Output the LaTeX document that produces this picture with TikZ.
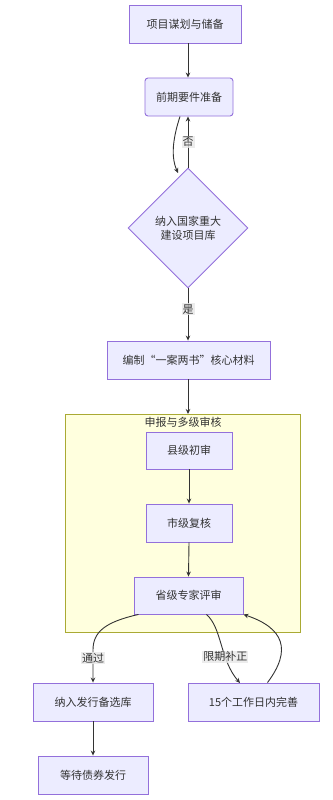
\documentclass[tikz,border=0pt]{standalone}
\usepackage{fontspec}
\setmainfont{Noto Sans CJK SC}
\usetikzlibrary{shapes.geometric,arrows.meta}
\definecolor{nfill}{HTML}{ECECFF}
\definecolor{nline}{HTML}{9370DB}
\definecolor{edge}{HTML}{333333}
\definecolor{cfill}{HTML}{FFFFDE}
\definecolor{cline}{HTML}{AAAA33}
\definecolor{lblbg}{HTML}{E8E8E8}
\tikzset{
  box/.style={draw=nline, fill=nfill, line width=0.9pt, inner sep=0pt, text=edge, font=\fontsize{11}{14}\selectfont},
  dia/.style={box, diamond, align=center},
  conn/.style={draw=edge, line width=0.9pt, -{Stealth[length=5pt,width=4.5pt]}},
  lbl/.style={fill=lblbg, fill opacity=0.8, text opacity=1, text=edge, inner sep=1pt, font=\fontsize{11}{13}\selectfont},
}
\begin{document}
\begin{tikzpicture}[x=1pt,y=-1pt]
\useasboundingbox (0,0) rectangle (332,800);
\fill[white] (0,0) rectangle (332,800);
% cluster
\draw[draw=cline, fill=cfill, line width=0.9pt] (65,414) rectangle (300,632);
\coordinate (ctop) at (188,414);
\node[text=edge, font=\fontsize{11}{13}\selectfont, inner sep=0pt] (ct) at (183,422) {申报与多级审核};

\node[box, minimum width=112pt, minimum height=38pt] (n1) at (185,24) {项目谋划与储备};
\node[box, rounded corners=3pt, minimum width=88pt, minimum height=38pt] (n2) at (189,97) {前期要件准备};
\node[dia, minimum width=120pt, minimum height=120pt] (d) at (188,228) {纳入国家重大\\建设项目库};
\node[box, minimum width=163pt, minimum height=38pt] (n4) at (188.5,360) {编制“一案两书”核心材料};
\node[box, minimum width=86pt, minimum height=37pt] (n5) at (189,450.5) {县级初审};
\node[box, minimum width=86pt, minimum height=38pt] (n6) at (189,523) {市级复核};
\node[box, minimum width=109pt, minimum height=37pt] (n7) at (188.5,595.5) {省级专家评审};
\node[box, minimum width=120pt, minimum height=38pt] (n8) at (93,702) {纳入发行备选库};
\node[box, minimum width=110pt, minimum height=38pt] (n9) at (93,775) {等待债券发行};
\node[box, minimum width=131pt, minimum height=38pt] (n10) at (253.5,702) {15个工作日内完善};

\draw[conn] (n1.south -| d.north) -- (d.north |- n2.north);
\draw[conn] ([xshift=-9pt]n2.south) .. controls (174,135) and (170,155) .. (178,173);
\draw[conn] (d.north) -- node[lbl] {否} (d.north |- n2.south);
\draw[conn] (d.south) -- node[lbl, pos=0.4] {是} (d.south |- n4.north);
\draw[conn] (ctop |- n4.south) -- (ctop);
\draw[conn] (n5.south) -- (n6.north);
\draw[conn] (n6.south) -- (n7.north);
\draw[conn] ([xshift=-50pt]n7.south) .. controls (105,622) and (93,632) .. (93,650) -- node[lbl, pos=0.25] {通过} (n8.north);
\draw[conn] ([xshift=18pt]n7.south) .. controls (222,628) and (220,660) .. node[lbl, pos=0.65] {限期补正} (240,683);
\draw[conn] ([xshift=14pt]n10.north) .. controls (292,650) and (284,628) .. (n7.south east);
\draw[conn] (n8.south) -- (n9.north);
\end{tikzpicture}
\end{document}
